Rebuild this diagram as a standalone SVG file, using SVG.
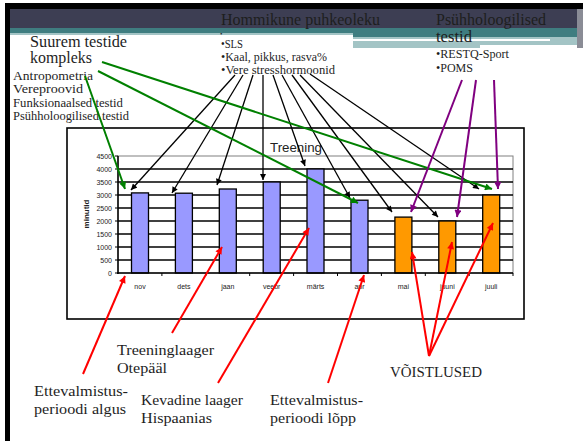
<svg xmlns="http://www.w3.org/2000/svg" width="583" height="441" viewBox="0 0 583 441">
<style>
.srf{font-family:"Liberation Serif","Times New Roman",serif;fill:#1e1e1e}
.t16{font-size:16px}
.t15{font-size:15px}
.t12{font-size:12px}
.sans{font-family:"Liberation Sans",Arial,sans-serif;fill:#222}
.ylab{font-size:7px;text-anchor:end}
.xlab{font-size:7px;text-anchor:middle}
.grid{stroke:#000;stroke-width:1.3}
.bb{fill:#9999ff;stroke:#000;stroke-width:1.3}
.bo{fill:#ff9900;stroke:#000;stroke-width:1.3}
.blk{stroke:#000;stroke-width:1.3;fill:none;marker-end:url(#mb)}
.grn{stroke:#008000;stroke-width:2;fill:none;marker-end:url(#mg)}
.prp{stroke:#800080;stroke-width:2;fill:none;marker-end:url(#mp)}
.red{stroke:#ff0000;stroke-width:2;fill:none;marker-end:url(#mr)}
</style>
<defs>
<marker id="mb" viewBox="0 0 10 10" refX="10" refY="5" markerWidth="7" markerHeight="6" markerUnits="userSpaceOnUse" orient="auto"><path d="M0,0 L10,5 L0,10 z" fill="#000"/></marker>
<marker id="mg" viewBox="0 0 10 10" refX="10" refY="5" markerWidth="8" markerHeight="7" markerUnits="userSpaceOnUse" orient="auto"><path d="M0,0 L10,5 L0,10 z" fill="#008000"/></marker>
<marker id="mp" viewBox="0 0 10 10" refX="10" refY="5" markerWidth="8" markerHeight="7" markerUnits="userSpaceOnUse" orient="auto"><path d="M0,0 L10,5 L0,10 z" fill="#800080"/></marker>
<marker id="mr" viewBox="0 0 10 10" refX="10" refY="5" markerWidth="8" markerHeight="7" markerUnits="userSpaceOnUse" orient="auto"><path d="M0,0 L10,5 L0,10 z" fill="#ff0000"/></marker>
</defs>
<rect x="0" y="0" width="583" height="441" fill="#fff"/>
<g id="template">
<rect x="5" y="3" width="578" height="6" fill="#000"/>
<rect x="5" y="3" width="5" height="438" fill="#000"/>
<rect x="10" y="9" width="573" height="19" fill="#3d3e53"/>
<rect x="10" y="28" width="573" height="9" fill="#3f7d80"/>
<rect x="10" y="37" width="573" height="11" fill="#a3c4c5"/>
<rect x="10" y="39" width="540" height="2" fill="#fff"/>
<rect x="10" y="33" width="343" height="2" fill="#a3c4c5"/>
<rect x="10" y="35" width="343" height="20" fill="#fff"/>
<rect x="480" y="45" width="97" height="6" fill="#fff"/>
<rect x="577" y="9" width="6" height="39" fill="#8a8c96"/>
</g>
<g id="node-suurem">
<text class="srf t16" x="30" y="47" textLength="97" lengthAdjust="spacingAndGlyphs">Suurem testide</text>
<text class="srf t16" x="30" y="63" textLength="62" lengthAdjust="spacingAndGlyphs">kompleks</text>
<text class="srf t12" x="13" y="80" textLength="80" lengthAdjust="spacingAndGlyphs">Antropometria</text>
<text class="srf t12" x="13" y="93" textLength="70" lengthAdjust="spacingAndGlyphs">Vereproovid</text>
<text class="srf t12" x="13" y="107" textLength="110" lengthAdjust="spacingAndGlyphs">Funksionaalsed testid</text>
<text class="srf t12" x="13" y="120" textLength="116" lengthAdjust="spacingAndGlyphs">Psühholoogilised testid</text>
</g>
<g id="node-hommikune">
<text class="srf t16" x="221" y="25" textLength="159" lengthAdjust="spacingAndGlyphs">Hommikune puhkeoleku</text>
<text class="srf" x="220" y="36" font-size="7">•</text>
<text class="srf t12" x="221" y="48" textLength="22" lengthAdjust="spacingAndGlyphs">•SLS</text>
<text class="srf t12" x="221" y="61" textLength="106" lengthAdjust="spacingAndGlyphs">•Kaal, pikkus, rasva%</text>
<text class="srf t12" x="221" y="74" textLength="114" lengthAdjust="spacingAndGlyphs">•Vere stresshormoonid</text>
</g>
<g id="node-psuhh">
<text class="srf t16" x="436" y="25" textLength="110" lengthAdjust="spacingAndGlyphs">Psühholoogilised</text>
<text class="srf t16" x="436" y="42" textLength="36" lengthAdjust="spacingAndGlyphs">testid</text>
<text class="srf t12" x="436" y="58" textLength="73" lengthAdjust="spacingAndGlyphs">•RESTQ-Sport</text>
<text class="srf t12" x="436" y="72" textLength="37" lengthAdjust="spacingAndGlyphs">•POMS</text>
</g>
<g id="node-chart">
<rect x="67" y="128" width="457" height="191" fill="#fff" stroke="#000" stroke-width="1.6"/>
<text class="sans" x="270" y="152" font-size="13.5" textLength="52" lengthAdjust="spacingAndGlyphs">Treening</text>
<rect x="118" y="156" width="395" height="117" fill="#fff" stroke="#808080" stroke-width="1"/>
<g class="grid">
<line x1="118" y1="169" x2="513" y2="169"/>
<line x1="118" y1="182" x2="513" y2="182"/>
<line x1="118" y1="195" x2="513" y2="195"/>
<line x1="118" y1="208" x2="513" y2="208"/>
<line x1="118" y1="221" x2="513" y2="221"/>
<line x1="118" y1="234" x2="513" y2="234"/>
<line x1="118" y1="247" x2="513" y2="247"/>
<line x1="118" y1="260" x2="513" y2="260"/>
</g>
<rect class="bb" x="131.5" y="192.9" width="17" height="80.1"/>
<rect class="bb" x="175.4" y="193.2" width="17" height="79.8"/>
<rect class="bb" x="219.3" y="189" width="17" height="84"/>
<rect class="bb" x="263.2" y="182" width="17" height="91"/>
<rect class="bb" x="307" y="169" width="17" height="104"/>
<rect class="bb" x="351" y="200.2" width="17" height="72.8"/>
<rect class="bo" x="394.9" y="217.1" width="17" height="55.9"/>
<rect class="bo" x="438.8" y="221" width="17" height="52"/>
<rect class="bo" x="482.7" y="195" width="17" height="78"/>
<g stroke="#000" stroke-width="1.5">
<line x1="118" y1="156" x2="118" y2="274"/>
<line x1="117" y1="273" x2="513" y2="273"/>
</g>
<g stroke="#000" stroke-width="1">
<line x1="115" y1="156" x2="118" y2="156"/><line x1="115" y1="169" x2="118" y2="169"/>
<line x1="115" y1="182" x2="118" y2="182"/><line x1="115" y1="195" x2="118" y2="195"/>
<line x1="115" y1="208" x2="118" y2="208"/><line x1="115" y1="221" x2="118" y2="221"/>
<line x1="115" y1="234" x2="118" y2="234"/><line x1="115" y1="247" x2="118" y2="247"/>
<line x1="115" y1="260" x2="118" y2="260"/><line x1="115" y1="273" x2="118" y2="273"/>
<line x1="161.9" y1="273" x2="161.9" y2="276"/><line x1="205.8" y1="273" x2="205.8" y2="276"/>
<line x1="249.7" y1="273" x2="249.7" y2="276"/><line x1="293.6" y1="273" x2="293.6" y2="276"/>
<line x1="337.5" y1="273" x2="337.5" y2="276"/><line x1="381.4" y1="273" x2="381.4" y2="276"/>
<line x1="425.3" y1="273" x2="425.3" y2="276"/><line x1="469.2" y1="273" x2="469.2" y2="276"/>
<line x1="513" y1="273" x2="513" y2="276"/>
</g>
<g class="sans ylab">
<text x="112" y="158.5">4500</text><text x="112" y="171.5">4000</text>
<text x="112" y="184.5">3500</text><text x="112" y="197.5">3000</text>
<text x="112" y="210.5">2500</text><text x="112" y="223.5">2000</text>
<text x="112" y="236.5">1500</text><text x="112" y="249.5">1000</text>
<text x="112" y="262.5">500</text><text x="112" y="275.5">0</text>
</g>
<g class="sans xlab">
<text x="140" y="289">nov</text><text x="183.9" y="289">dets</text>
<text x="227.8" y="289">jaan</text><text x="271.7" y="289">veebr</text>
<text x="315.6" y="289">märts</text><text x="359.5" y="289">apr</text>
<text x="403.4" y="289">mai</text><text x="447.3" y="289">juuni</text>
<text x="491.2" y="289">juuli</text>
</g>
<text class="sans" x="0" y="0" font-size="8" font-weight="bold" text-anchor="middle" transform="translate(89,214) rotate(-90)">minutid</text>
</g>
<g id="node-treeninglaager">
<text class="srf t15" x="117" y="355" textLength="97" lengthAdjust="spacingAndGlyphs">Treeninglaager</text>
<text class="srf t15" x="117" y="373" textLength="50" lengthAdjust="spacingAndGlyphs">Otepääl</text>
</g>
<g id="node-algus">
<text class="srf t15" x="34" y="396" textLength="94" lengthAdjust="spacingAndGlyphs">Ettevalmistus-</text>
<text class="srf t15" x="34" y="414" textLength="92" lengthAdjust="spacingAndGlyphs">perioodi algus</text>
</g>
<g id="node-kevadine">
<text class="srf t15" x="141" y="405" textLength="102" lengthAdjust="spacingAndGlyphs">Kevadine laager</text>
<text class="srf t15" x="141" y="423" textLength="71" lengthAdjust="spacingAndGlyphs">Hispaanias</text>
</g>
<g id="node-lopp">
<text class="srf t15" x="270" y="405" textLength="93" lengthAdjust="spacingAndGlyphs">Ettevalmistus-</text>
<text class="srf t15" x="270" y="423" textLength="86" lengthAdjust="spacingAndGlyphs">perioodi lõpp</text>
</g>
<g id="node-voistlused">
<text class="srf t15" x="390" y="377" textLength="92" lengthAdjust="spacingAndGlyphs">VÕISTLUSED</text>
</g>
<g id="connectors">
<line class="blk" x1="235" y1="75" x2="131" y2="190"/>
<line class="blk" x1="243" y1="75" x2="172" y2="193"/>
<line class="blk" x1="253" y1="75" x2="217" y2="185"/>
<line class="blk" x1="263" y1="75" x2="263" y2="180"/>
<line class="blk" x1="273" y1="75" x2="305" y2="166"/>
<line class="blk" x1="282" y1="75" x2="350" y2="198"/>
<line class="blk" x1="292" y1="75" x2="392" y2="212"/>
<line class="blk" x1="300" y1="75" x2="438" y2="217"/>
<line class="blk" x1="310" y1="74" x2="479" y2="189"/>
<line class="grn" x1="85" y1="76" x2="125" y2="189"/>
<line class="grn" x1="102" y1="62" x2="492" y2="189"/>
<line class="grn" x1="98" y1="71" x2="358" y2="203"/>
<line class="prp" x1="462" y1="80" x2="411" y2="212"/>
<line class="prp" x1="476" y1="80" x2="457" y2="217"/>
<line class="prp" x1="494" y1="80" x2="498" y2="189"/>
<line class="red" x1="83" y1="374" x2="125" y2="276"/>
<line class="red" x1="172" y1="333" x2="222" y2="247"/>
<line class="red" x1="218" y1="383" x2="309" y2="228"/>
<line class="red" x1="328" y1="383" x2="364" y2="275"/>
<line class="red" x1="429" y1="356" x2="412" y2="252"/>
<line class="red" x1="429" y1="356" x2="452" y2="242"/>
<line class="red" x1="429" y1="356" x2="493" y2="223"/>
</g>
</svg>
